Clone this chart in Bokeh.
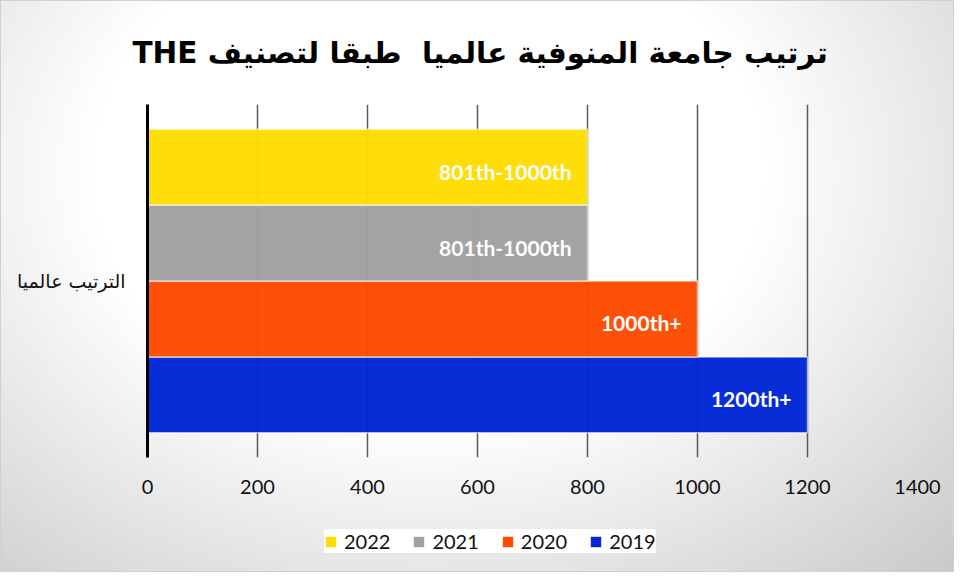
from bokeh.plotting import figure
from bokeh.layouts import column
from bokeh.models import FactorRange, Legend, LegendItem, ColumnDataSource, FixedTicker, Range1d
from bokeh.transform import dodge
from bokeh.core.properties import value
from bokeh.embed import file_html
from bokeh.resources import INLINE

# ---- data ----
category = "الترتيب عالميا"
years = ["2019", "2020", "2021", "2022"]
ranks = [1200, 1000, 800, 800]
rank_labels = ["1200th+", "1000th+", "801th-1000th", "801th-1000th"]
colors = ["#0026d6", "#ff4a00", "#a0a0a0", "#ffdd00"]
x_ticks = [0, 200, 400, 600, 800, 1000, 1200, 1400]
title_text = "\u202bترتيب جامعة المنوفية عالميا \u00a0طبقا لتصنيف THE\u202c"

W = 954
H_MAIN, H_LEG = 515, 57

p = figure(width=W, height=H_MAIN, y_range=FactorRange(category), x_range=(0, 1400),
           output_backend="svg", toolbar_location=None,
           min_border_left=147, min_border_right=37, min_border_top=104, min_border_bottom=58)
p.background_fill_color = None
p.border_fill_color = None
p.outline_line_color = None

band = 0.215
for i, (yr, val, lab, col) in enumerate(zip(years, ranks, rank_labels, colors)):
    src = ColumnDataSource(dict(cat=[category], val=[val], lab=[lab]))
    off = (i - 1.5) * band
    p.hbar(y=dodge("cat", off, range=p.y_range), left=0, right="val", height=band,
           source=src, fill_color=col, fill_alpha=0.97,
           line_color="white", line_alpha=0.6, line_width=1.5)
    p.text(x="val", y=dodge("cat", off, range=p.y_range), text="lab", source=src,
           text_align="right", text_baseline="middle", x_offset=-16, y_offset=4,
           text_color="white", text_font=value("Lato"), text_font_style="bold",
           text_font_size="21px")

p.title.text = title_text
p.title.align = "left"
p.title.vertical_align = "top"
p.title.offset = -15
p.title.standoff = 66
p.title.text_font = "DejaVu Sans"
p.title.text_font_size = "29.5px"
p.title.text_font_style = "bold"
p.title.text_color = "black"

p.xaxis.ticker = FixedTicker(ticks=x_ticks)
p.xaxis.axis_line_color = None
p.xaxis.major_tick_line_color = None
p.xaxis.minor_tick_line_color = None
p.xaxis.major_label_standoff = 16
p.xaxis.major_label_text_font = "Lato"
p.xaxis.major_label_text_font_size = "20px"
p.xaxis.major_label_text_color = "#111111"

p.yaxis.axis_line_color = "black"
p.yaxis.axis_line_width = 3
p.yaxis.major_tick_line_color = None
p.yaxis.minor_tick_line_color = None
p.yaxis.major_label_standoff = 16
p.yaxis.major_label_text_font = "DejaVu Sans"
p.yaxis.major_label_text_font_size = "19px"
p.yaxis.major_label_text_color = "#111111"

p.ygrid.grid_line_color = None
p.xgrid.grid_line_color = "#595959"
p.xgrid.grid_line_width = 1.5

# ---- legend strip ----
pl = figure(width=W, height=H_LEG, x_range=Range1d(0, 1), y_range=Range1d(0, 1),
            output_backend="svg", toolbar_location=None, x_axis_type=None, y_axis_type=None,
            min_border=0)
pl.background_fill_color = None
pl.border_fill_color = None
pl.outline_line_color = None
pl.grid.visible = False
items = []
for yr, col in zip(years, colors):
    # swatch renderer kept outside the visible range; it only feeds the legend
    r = pl.hbar(y=[-5], left=[0], right=[1], height=0.1, fill_color=col, line_color=None)
    items.append(LegendItem(label=yr, renderers=[r]))
legend = Legend(items=list(reversed(items)), orientation="horizontal", location=(177, 19),
                glyph_width=13, glyph_height=13, label_standoff=7, spacing=22,
                padding=12, margin=0, label_text_font="Lato", label_text_font_size="20px",
                label_text_color="#111111", background_fill_color="white", background_fill_alpha=1,
                border_line_color=None)
pl.add_layout(legend)

layout = column(p, pl, spacing=0)
layout.styles = {
    "background": "radial-gradient(farthest-corner at 45% 30%, #ffffff 0%, #ffffff 45%, #c9c9c9 100%)",
    "box-shadow": "inset 0 0 0 1px #d0d0d0",
}

open("out.html", "w").write(file_html(layout, INLINE))
